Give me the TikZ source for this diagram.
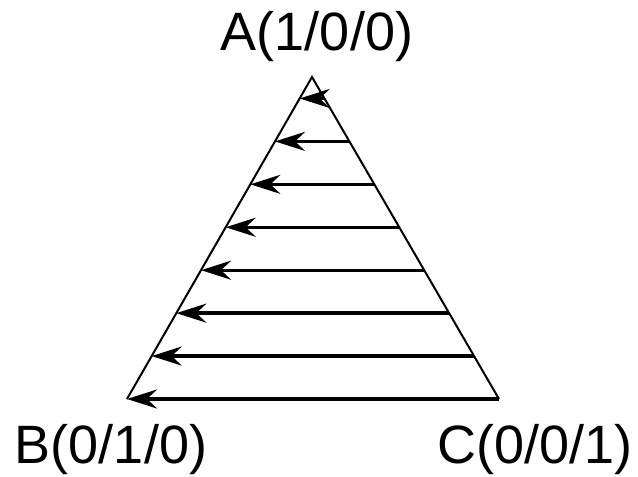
\documentclass[tikz,border=0pt]{standalone}
\usepackage{fontspec}
\setmainfont{Liberation Sans}
\usetikzlibrary{arrows.meta,calc}
\begin{document}
\begin{tikzpicture}[x=1pt,y=-1pt,
  side/.style={line width=2pt,line join=miter},
  flow/.style={line width=3.4pt,-{Stealth[length=30pt,width=19pt,inset=10pt]}},
  lbl/.style={font=\fontsize{54}{60}\selectfont,anchor=base,inner sep=0pt}]
\useasboundingbox (0,0) rectangle (638,477);
\coordinate (A) at (312,77);
\coordinate (B) at (127,399);
\coordinate (C) at (499,399);
\draw[side] (B) -- (A) -- (C);
\foreach \k in {0,...,7}{
  \pgfmathsetmacro{\t}{(\k+0.5)/7.5}
  \coordinate (r\k) at ($(A)!\t!(C)$);
  \coordinate (l\k) at ($(A)!\t!(B)$);
  \draw[flow] (r\k) -- (l\k);
}
\node[lbl] (la) at (317,50) {A(1/0/0)};
\node[lbl] (lb) at (111,463) {B(0/1/0)};
\node[lbl] (lc) at (535,463) {C(0/0/1)};
\end{tikzpicture}
\end{document}
